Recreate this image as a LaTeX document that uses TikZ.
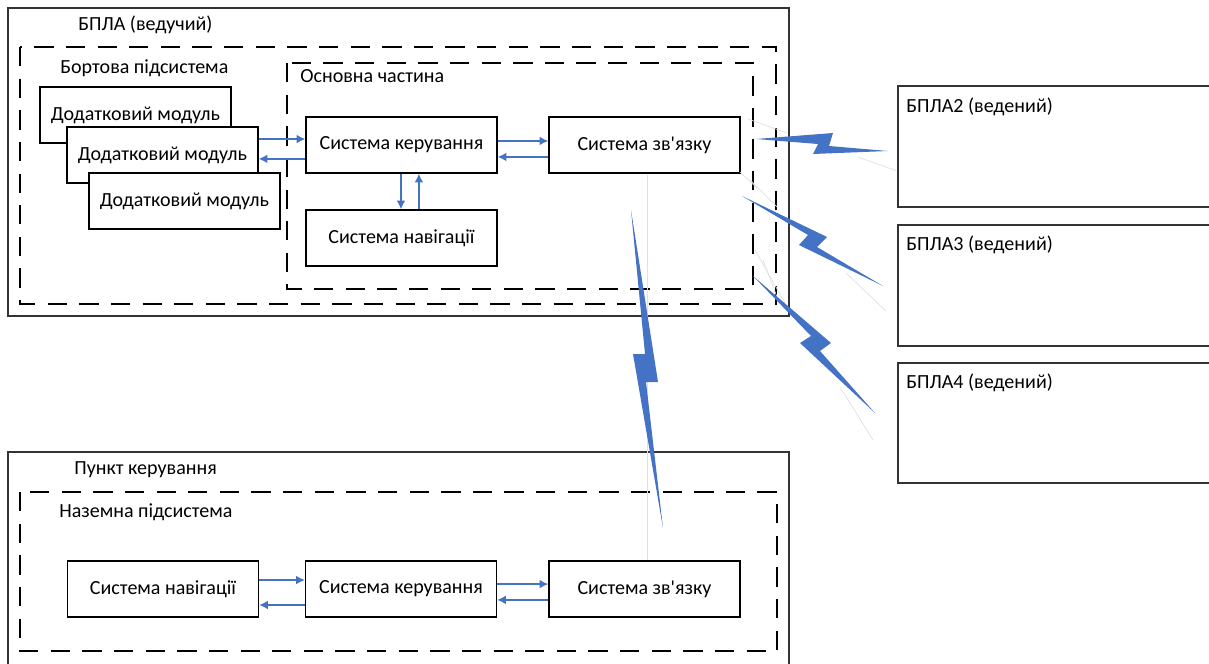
\documentclass[tikz,border=0pt]{standalone}
\usepackage{fontspec}
\setmainfont{Carlito}[Ligatures=TeXOff]
\usetikzlibrary{arrows.meta,positioning}
\definecolor{linkblue}{HTML}{4472C4}
\tikzset{node distance=2cm, on grid,
box/.style={rectangle, draw, fill=white, line width=0.8pt, minimum width=3.82cm, minimum height=1.12cm, inner sep=2pt, font=\fontsize{11.4}{13}\selectfont},
frame/.style={draw=black!80, line width=1pt},
dashframe/.style={draw=black, line width=1pt, dash pattern=on 11pt off 7pt},
frametext/.style={anchor=west, inner sep=0pt, font=\fontsize{11.4}{13}\selectfont},
link/.style={draw=linkblue, line width=0.8pt, -{Latex[length=5pt,width=5pt]}},
bolt/.style={fill=linkblue},
ghost/.style={draw=black!12, line width=0.4pt}}

\begin{document}
\begin{tikzpicture}[x=0.02cm, y=-0.02cm]
    \useasboundingbox (0,0) rectangle (1209,663);

    % Frames
    \draw[frame] (8,8) rectangle (789,316);
    \draw[dashframe] (20,47) rectangle (776,304);
    \draw[dashframe] (287,63) rectangle (753,289);
    \draw[frame] (898,86) rectangle (1215,207);
    \draw[frame] (898,225) rectangle (1215,346);
    \draw[frame] (898,363) rectangle (1215,483);
    \draw[frame] (8,452) rectangle (789,672);
    \draw[dashframe] (20,492) rectangle (777,651);

    \node[frametext] (lead) at (78,25) {БПЛА (ведучий)};
    \node[frametext] (onboard) at (60,68) {Бортова підсистема};
    \node[frametext] (core) at (300,76) {Основна частина};
    \node[frametext] (uav2) at (906,107) {БПЛА2 (ведений)};
    \node[frametext] (uav3) at (906,245) {БПЛА3 (ведений)};
    \node[frametext] (uav4) at (906,383) {БПЛА4 (ведений)};
    \node[frametext] (post) at (74,470) {Пункт керування};
    \node[frametext] (ground) at (59,512) {Наземна підсистема};

    % Nodes
    \node[box] (mod1) at (135.5,115) {Додатковий модуль};
    \node[box, below right=0.8cm and 0.54cm of mod1] (mod2) {Додатковий модуль};
    \node[box, below right=0.92cm and 0.44cm of mod2] (mod3) {Додатковий модуль};
    \node[box] (ctl1) at (401.5,145) {Система керування};
    \node[box] (com1) at (644.5,145) {Система зв'язку};
    \node[box, below=1.86cm of ctl1] (nav1) {Система навігації};

    \node[box] (nav2) at (163,589) {Система навігації};
    \node[box] (ctl2) at (401,589) {Система керування};
    \node[box] (com2) at (644.5,589) {Система зв'язку};

    % Edges
    \path ([yshift=3.4pt]ctl1.west -| mod2.east) edge[link] ([yshift=3.4pt]ctl1.west)
          ([yshift=-7.9pt]ctl1.west) edge[link] ([yshift=-7.9pt]ctl1.west -| mod2.east)
          ([yshift=2.3pt]ctl1.east) edge[link] ([yshift=2.3pt]ctl1.east -| com1.west)
          ([yshift=-6.8pt]ctl1.east -| com1.west) edge[link] ([yshift=-6.8pt]ctl1.east)
          ([xshift=-0.3pt]ctl1.south) edge[link] ([xshift=-0.3pt]nav1.north)
          ([xshift=9.9pt]nav1.north) edge[link] ([xshift=9.9pt]ctl1.south)
          ([yshift=5.1pt]nav2.east) edge[link] ([yshift=5.1pt]nav2.east -| ctl2.west)
          ([yshift=-9.1pt]nav2.east -| ctl2.west) edge[link] ([yshift=-9.1pt]nav2.east)
          ([yshift=2.8pt]ctl2.east) edge[link] ([yshift=2.8pt]ctl2.east -| com2.west)
          ([yshift=-6.2pt]ctl2.east -| com2.west) edge[link] ([yshift=-6.2pt]ctl2.east);

    % Radio links
    \draw[ghost] (748,119) -- (787,133);
    \draw[ghost] (858,157) -- (897,171);
    \draw[ghost] (740,172) -- (757,188);
    \draw[ghost] (750,180) -- (777,207);
    \draw[ghost] (846,273) -- (886,311);
    \draw[ghost] (755,250) -- (785,303);
    \draw[ghost] (763,260) -- (777,297);
    \draw[ghost] (840,387) -- (873,440);
    \draw[ghost] (647,175) -- (647,560);
    \fill[bolt] (756,139) -- (833,133) -- (829,146) -- (888,151) -- (813,154) -- (818,144) -- cycle;
    \fill[bolt] (742,196) -- (827,237) -- (817,247) -- (883,286) -- (799,245) -- (808,235) -- cycle;
    \fill[bolt] (753,276) -- (831,343) -- (820,351) -- (875,413) -- (800,343) -- (811,336) -- cycle;
    \fill[bolt] (631,210) -- (658,382) -- (646,382) -- (663,528) -- (633,354) -- (645,354) -- cycle;
\end{tikzpicture}
\end{document}
